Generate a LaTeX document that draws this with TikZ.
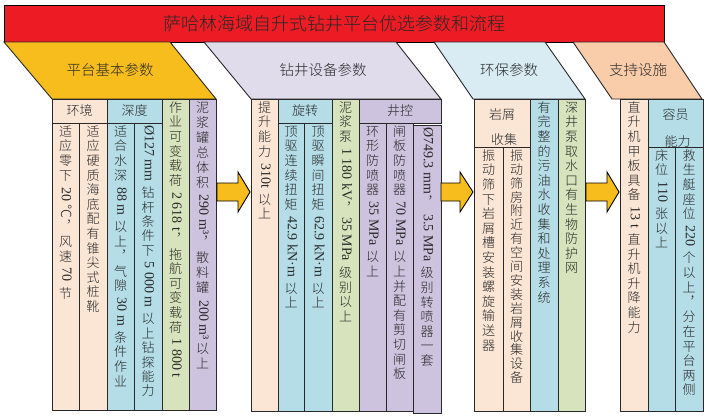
\documentclass[tikz,border=0pt]{standalone}
\usepackage{fontspec}
\usepackage{graphicx}
\setmainfont{Liberation Serif}
\IfFontExistsTF{Noto Sans CJK SC Light}{\newfontfamily\cjk{Noto Sans CJK SC Light}}{\newfontfamily\cjk{Noto Sans CJK SC}}
\definecolor{cred}{RGB}{237,28,36}
\definecolor{cyel}{RGB}{246,189,28}
\definecolor{cpur}{RGB}{224,220,236}
\definecolor{ccyan}{RGB}{217,236,244}
\definecolor{corg}{RGB}{249,204,170}
\definecolor{tpeach}{RGB}{251,230,214}
\definecolor{tblue}{RGB}{180,221,231}
\definecolor{tgreen}{RGB}{214,227,188}
\definecolor{tlav}{RGB}{205,195,222}
\definecolor{ink}{RGB}{40,40,40}
\makeatletter
\newdimen\vt@gap
\let\vtend\relax
\def\vt@endmark{\vtend}
\newcommand\vt[2][1.6pt]{\vbox{\offinterlineskip\vt@gap=#1\relax\cjk\fontsize{13}{15}\selectfont\vt@loop#2\vtend}}
\def\vt@loop#1{\def\vt@tmp{#1}\ifx\vt@tmp\vt@endmark\else\vt@item{#1}\expandafter\vt@loop\fi}
\def\vt@item#1{\hbox to 22pt{\hss\vrule height .86em depth .14em width 0pt #1\hss}\kern\vt@gap\relax}
\newcommand\R[1]{\raisebox{.86em}{\rotatebox{-90}{\fontsize{14}{16}\selectfont\rmfamily\rule[-.24em]{0pt}{.94em}#1}}}
\makeatother
\newcommand\cell[8][1.6pt]{\path[#7] (#3,#4) rectangle (#5,#6); \node[vtext] (#2) at ({(#3+#5)/2},#4+2) {\vt[#1]{#8}};}
\newcommand\hcell[7]{\path[#6] (#2,#3) rectangle (#4,#5); \node[hdr] (#1) at ({(#2+#4)/2},{(#3+#5)/2}) {#7};}
\tikzset{
  box/.style={draw=ink, line width=0.9pt},
  peach/.style={box, fill=tpeach},
  blue/.style={box, fill=tblue},
  green/.style={box, fill=tgreen},
  lav/.style={box, fill=tlav},
  para/.style={draw=ink, line width=0.9pt},
  vtext/.style={anchor=north, inner sep=0pt, text=ink},
  hdr/.style={inner sep=0pt, text=ink, align=center, font=\cjk\fontsize{13}{15}\selectfont},
  plabel/.style={inner sep=0pt, text=ink, font=\cjk\fontsize{14.5}{16}\selectfont},
  barrow/.style={draw=black, line width=0.9pt, fill=cyel},
}
\begin{document}
\begin{tikzpicture}[x=1pt,y=-1pt]
\useasboundingbox (0,0) rectangle (707,416);
% title
\path[draw=black, line width=1pt, fill=cred] (4,5) rectangle (664,42);
\node[inner sep=0pt, text=ink, font=\cjk\fontsize{18}{20}\selectfont] (title) at (334,23.5) {萨哈林海域自升式钻井平台优选参数和流程};
% category parallelograms
\path[para, fill=cyel] (4,42) -- (170,42) -- (216,99) -- (52,99) -- cycle;
\node[plabel] (p1) at (110,70) {平台基本参数};
\path[para, fill=cpur] (204,42) -- (396,42) -- (441,99) -- (251,99) -- cycle;
\node[plabel] (p2) at (323,70) {钻井设备参数};
\path[para, fill=ccyan] (434,42) -- (545,42) -- (585,99) -- (473,99) -- cycle;
\node[plabel] (p3) at (509,70) {环保参数};
\path[para, fill=corg] (573,42) -- (664,42) -- (702,99) -- (612,99) -- cycle;
\node[plabel] (p4) at (638,70) {支持设施};
% table 1
\hcell{h11}{52}{99}{107}{123}{peach}{环境}
\hcell{h12}{107}{99}{162}{123}{blue}{深度}
\cell{t11}{52}{123}{79}{410}{peach}{适应零下{\R{ 20 {\cjk ℃}}}︐风速{\R{ 70 }}节}
\cell{t12}{79}{123}{107}{410}{peach}{适应硬质海底配有锥尖式桩靴}
\cell{t13}{107}{123}{134}{410}{blue}{适合水深{\R{ 88 m }}以上︐气隙{\R{ 30 m }}条件作业}
\cell[1.4pt]{t14}{134}{123}{162}{410}{blue}{{\R{Ø127 mm }}钻杆条件下{\R{ 5 000 m }}以上钻探能力}
\cell{t15}{162}{99}{189}{410}{green}{作业可变载荷{\R{ 2 618 t}}︐拖航可变载荷{\R{ 1 800 t}}}
\cell[2pt]{t16}{189}{99}{216}{410}{lav}{泥浆罐总体积{\R{ 290 m³}}︐散料罐{\R{ 200 m³}}以上}
% table 2
\hcell{h21}{278}{99}{332}{123}{blue}{旋转}
\hcell{h22}{359}{99}{441}{123}{lav}{井控}
\cell{t21}{251}{99}{278}{411}{peach}{提升能力{\R{ 310t }}以上}
\cell{t22}{278}{123}{304}{411}{blue}{顶驱连续扭矩{\R{ 42.9 kN·m }}以上}
\cell{t23}{304}{123}{332}{411}{blue}{顶驱瞬间扭矩{\R{ 62.9 kN·m }}以上}
\cell{t24}{332}{99}{359}{411}{green}{泥浆泵{\R{ 1 180 kV}}︐{\R{35 MPa }}级别以上}
\cell{t25}{359}{123}{386}{411}{lav}{环形防喷器{\R{ 35 MPa }}以上}
\cell{t26}{386}{123}{413}{411}{lav}{闸板防喷器{\R{ 70 MPa }}以上并配有剪切闸板}
\cell{t27}{413}{125}{441}{413}{lav}{{\R{Ø749.3 mm}}︐{\R{ 3.5 MPa }}级别转喷器一套}
% table 3
\path[peach] (474,99) rectangle (530,147);
\node[hdr] (h31a) at (502,115) {岩屑};
\node[hdr] (h31b) at (504,140) {收集};
\cell{t31}{474}{147}{503}{411}{peach}{振动筛下岩屑槽安装螺旋输送器}
\cell[0.9pt]{t32}{503}{147}{530}{411}{peach}{振动筛房附近有空间安装岩屑收集设备}
\cell{t33}{530}{99}{558}{411}{blue}{有完整的污油水收集和处理系统}
\cell{t34}{558}{99}{585}{411}{green}{深井泵取水口有生物防护网}
% table 4
\path[blue] (648,99) rectangle (703,147);
\node[hdr] (h41a) at (675.5,115) {容员};
\node[hdr] (h41b) at (677.5,142) {能力};
\cell{t41}{620}{99}{648}{411}{peach}{直升机甲板具备{\R{ 13 t }}直升机升降能力}
\cell{t42}{648}{147}{675}{411}{blue}{床位{\R{ 110 }}张以上}
\cell{t43}{675}{147}{703}{411}{blue}{救生艇座位{\R{ 220 }}个以上︐分在平台两侧}
% block arrows
\path[barrow] (217,183) -- (238,183) -- (238,172) -- (250,192) -- (238,212) -- (238,201) -- (217,201) -- cycle;
\path[barrow] (441,183) -- (460,183) -- (460,172) -- (473,192) -- (460,212) -- (460,201) -- (441,201) -- cycle;
\path[barrow] (586,183) -- (607,183) -- (607,172) -- (619,192) -- (607,212) -- (607,201) -- (586,201) -- cycle;
\end{tikzpicture}
\end{document}
